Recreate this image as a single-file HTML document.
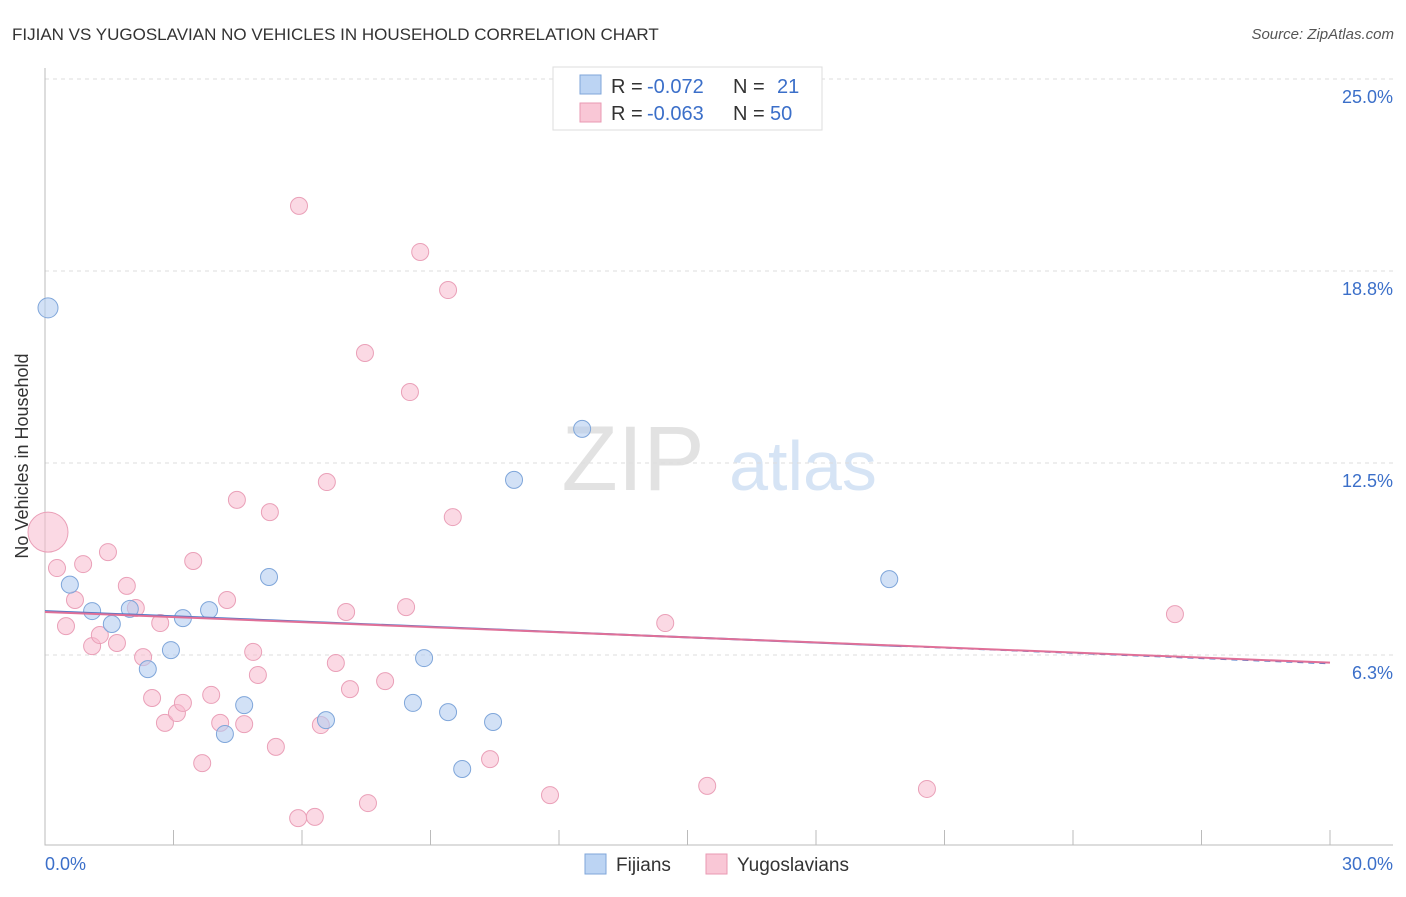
<!DOCTYPE html>
<html><head><meta charset="utf-8"><style>
body{margin:0;background:#fff;font-family:"Liberation Sans",sans-serif;}
svg text{font-family:"Liberation Sans",sans-serif;}
</style></head><body>
<svg id="c" width="1406" height="892" xmlns="http://www.w3.org/2000/svg">
<text x="12" y="40" font-size="17" fill="#333">FIJIAN VS YUGOSLAVIAN NO VEHICLES IN HOUSEHOLD CORRELATION CHART</text>
<text x="1394" y="39" font-size="15" fill="#555" font-style="italic" text-anchor="end">Source: ZipAtlas.com</text>
<text x="633" y="490" font-size="92" fill="#e2e2e2" font-family="Liberation Serif" text-anchor="middle">ZIP</text>
<text x="803" y="490" font-size="70" fill="#d6e4f5" text-anchor="middle">atlas</text>
<text x="28" y="456" font-size="18" fill="#333" text-anchor="middle" transform="rotate(-90 28 456)">No Vehicles in Household</text>
<g id="grid"></g><g id="marks"></g>
<g>
<rect x="553" y="67" width="269" height="63" fill="#fff" stroke="#ddd"/>
<rect x="580" y="75" width="21" height="19" fill="#bcd4f3" stroke="#7fa6da"/>
<rect x="580" y="103" width="21" height="19" fill="#f9c7d6" stroke="#e99ab3"/>
<text x="611" y="93" font-size="20" fill="#333">R =</text>
<text x="647" y="93" font-size="20" fill="#3b6fc9">-0.072</text>
<text x="733" y="93" font-size="20" fill="#333">N =</text>
<text x="777" y="93" font-size="20" fill="#3b6fc9">21</text>
<text x="611" y="120" font-size="20" fill="#333">R =</text>
<text x="647" y="120" font-size="20" fill="#3b6fc9">-0.063</text>
<text x="733" y="120" font-size="20" fill="#333">N =</text>
<text x="770" y="120" font-size="20" fill="#3b6fc9">50</text>
</g>
<g>
<rect x="585" y="854" width="21" height="20" fill="#bcd4f3" stroke="#7fa6da"/>
<text x="616" y="871" font-size="19" fill="#333">Fijians</text>
<rect x="706" y="854" width="21" height="20" fill="#f9c7d6" stroke="#e99ab3"/>
<text x="737" y="871" font-size="19" fill="#333">Yugoslavians</text>
</g>
</svg>
<script>
const fijX=[0.07,0.58,1.10,1.56,1.98,2.40,2.94,3.22,3.83,4.20,4.65,5.23,6.56,8.85,8.59,9.41,9.74,10.46,10.95,12.54,19.71];
const fijY=[17.55,8.54,7.68,7.26,7.75,5.79,6.41,7.45,7.71,3.68,4.62,8.79,4.13,6.15,4.69,4.39,2.54,4.07,11.95,13.61,8.72];
const yugX=[0.07,0.28,0.49,0.70,0.89,1.10,1.28,1.47,1.68,1.91,2.12,2.29,2.50,2.69,2.80,3.08,3.22,3.46,3.67,3.88,4.09,4.25,4.48,4.65,4.86,4.97,5.25,5.39,5.91,5.93,6.30,6.44,6.58,6.79,7.03,7.12,7.47,7.54,7.94,8.43,8.52,8.76,9.41,9.52,10.39,11.79,14.48,15.46,20.59,26.38];
const yugY=[10.25,9.08,7.19,8.04,9.21,6.54,6.90,9.60,6.64,8.50,7.78,6.18,4.85,7.29,4.04,4.36,4.69,9.31,2.73,4.95,4.04,8.04,11.30,4.00,6.35,5.60,10.90,3.26,0.94,20.87,0.98,3.97,11.88,5.99,7.65,5.14,16.08,1.43,5.40,7.81,14.81,19.37,18.13,10.74,2.86,1.69,7.29,1.99,1.89,7.58];
const yTicks=[6.25,12.5,18.75,25];
const yTickLabels=["6.3%","12.5%","18.8%","25.0%"];
const xLabels=["0.0%","30.0%"];
const fijTrend=[7.68,-0.057];
const yugTrend=[7.65,-0.055];
const NS="http://www.w3.org/2000/svg";
const X=v=>45+v*1285/30, Y=v=>847-v*30.72;
function mk(t,a,p){const e=document.createElementNS(NS,t);for(const k in a)e.setAttribute(k,a[k]);p.appendChild(e);return e;}
const g=document.getElementById('grid'), m=document.getElementById('marks');
yTicks.forEach((t,i)=>{
 const l=mk('line',{x1:45,x2:1393,y1:Y(t),y2:Y(t),stroke:'#ddd','stroke-dasharray':'4,4'},g);
 
 
 const tx=mk('text',{x:1393,y:Y(t)+24,'font-size':18,fill:'#3b6fc9','text-anchor':'end'},g);
 tx.textContent=yTickLabels[i];
 
 
});
const ax=mk('path',{d:'M45 68V845H1393',fill:'none',stroke:'#bbb'},g);


for(let i=0;i<=10;i++){const tk=mk('line',{x1:X(i*3),x2:X(i*3),y1:830,y2:845,stroke:'#bbb'},g);
 
 }
[[0,45,'start'],[1,1393,'end']].forEach(([i,x,a])=>{const t=mk('text',{x:x,y:870,'font-size':18,fill:'#3b6fc9','text-anchor':a},g);t.textContent=xLabels[i];
 
 });
yugX.forEach((x,i)=>{const c=mk('circle',{cx:X(x),cy:Y(yugY[i]),r:i==0?20:8.5,fill:'rgba(248,185,205,0.55)',stroke:'#eaa0b8','stroke-width':1},m);
 
 });
fijX.forEach((x,i)=>{const c=mk('circle',{cx:X(x),cy:Y(fijY[i]),r:i==0?10:8.5,fill:'rgba(180,205,240,0.6)',stroke:'#7fa6da','stroke-width':1},m);
 
 });
const f=v=>fijTrend[0]+fijTrend[1]*v, yg=v=>yugTrend[0]+yugTrend[1]*v;
let l1=mk('line',{x1:X(0),y1:Y(f(0)),x2:X(20),y2:Y(f(20)),stroke:'#4a78c8','stroke-width':2},m);


let l2=mk('line',{x1:X(20),y1:Y(f(20)),x2:X(30),y2:Y(f(30)),stroke:'#4a78c8','stroke-width':1.5,'stroke-dasharray':'6,5'},m);


let l3=mk('line',{x1:X(0),y1:Y(yg(0)),x2:X(30),y2:Y(yg(30)),stroke:'#e07098','stroke-width':2},m);


</script>
</body></html>
